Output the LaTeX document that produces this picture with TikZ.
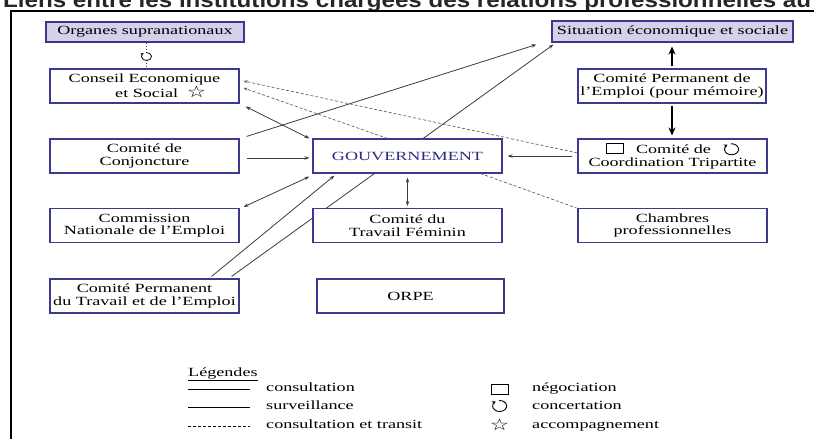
\documentclass[tikz,border=0pt]{standalone}
\usepackage{fontspec}
\setmainfont{Liberation Serif}[FakeStretch=1.45]
\newfontfamily\titlefont{Liberation Sans}[FakeStretch=1.15]
\newfontfamily\symfont{DejaVu Sans}[FakeStretch=1.35]
\usetikzlibrary{arrows.meta,backgrounds}
\definecolor{boxline}{HTML}{3A3A8C}
\definecolor{lav}{HTML}{D6D1EA}
\definecolor{navy}{HTML}{2B2B85}
\definecolor{edgec}{HTML}{3C3C3C}
\definecolor{dotblue}{HTML}{3030A0}
\newcommand{\negsym}{\tikz[baseline=0pt]\draw[line width=0.8pt] (0pt,0pt) rectangle (17pt,10pt);}
\newcommand{\concsym}{\tikz[baseline=0pt]\draw[line width=0.9pt,-{Stealth[length=3.5pt,width=4pt]}] (0pt,4.5pt) ++(95:7pt and 5.5pt) arc[start angle=95,end angle=-235,x radius=7pt,y radius=5.5pt];}
\newcommand{\accsym}{{\symfont\fontsize{16}{16}\selectfont ☆}}
\tikzset{
  box/.style={draw=boxline, line width=1.1pt, fill=white, minimum width=189pt,
    minimum height=34pt, inner sep=0pt, align=center,
    font=\fontsize{12.5}{12.5}\selectfont},
  topbox/.style={box, fill=lav, minimum height=20pt},
  arr/.style={draw=edgec, line width=0.8pt, -{Stealth[length=5pt,width=3.5pt]}},
  barr/.style={draw=edgec, line width=0.8pt, {Stealth[length=5pt,width=3.5pt]}-{Stealth[length=5pt,width=3.5pt]}},
  dline/.style={draw=gray!70!black, line width=0.65pt, dash pattern=on 3pt off 2pt},
  darr/.style={dline, -{Stealth[length=4pt,width=3pt]}},
  karr/.style={draw=black, line width=1.2pt, -{Stealth[length=8pt,width=7pt]}},
  legtext/.style={anchor=base west, inner sep=0pt, font=\fontsize{12.5}{12.5}\selectfont},
}
\begin{document}
\begin{tikzpicture}[x=1pt, y=-1pt]
\useasboundingbox (0,0) rectangle (814,439);
% title
\node[anchor=base west, inner sep=0pt, text=black!85,
  font=\titlefont\bfseries\fontsize{21}{21}\selectfont] (title) at (3,7)
  {Liens entre les institutions chargées des relations professionnelles au};
% frame
\coordinate (fbl) at (11,439);
\coordinate (ftl) at (11,11);
\coordinate (ftr) at (814,11);
\draw[line width=2.5pt] (fbl) -- (ftl) -- (ftr);
% boxes
\node[topbox, minimum width=198pt, minimum height=20pt] (org) at (145,32) {Organes supranationaux};
\node[topbox, minimum width=241pt, minimum height=21pt] (sit) at (672.5,31.5) {Situation économique et sociale};
\node[box] (ces) at (144.5,86) {Conseil Economique\\\hspace*{2.6em}et Social\hspace{0.7em}\accsym};
\node[box, minimum width=188pt] (cpe) at (672,86) {Comité Permanent de\\l'Emploi (pour mémoire)};
\node[box] (conj) at (144.5,156) {Comité de\\Conjoncture};
\node[box, text=navy] (gouv) at (407.5,156) {GOUVERNEMENT};
\node[box] (trip) at (672.5,156) {\negsym\quad Comité de\quad\concsym\\Coordination Tripartite};
\node[box] (cne) at (144.5,225.5) {Commission\\Nationale de l'Emploi};
\node[box] (ctf) at (407.5,225.5) {Comité du\\Travail Féminin};
\node[box] (cham) at (672.5,225.5) {Chambres\\professionnelles};
\node[box] (cpte) at (144.5,296) {Comité Permanent\\du Travail et de l'Emploi};
\node[box, minimum width=187pt] (orpe) at (410.5,296) {ORPE};
% concertation link Organes - Conseil
\node[minimum width=10pt, minimum height=8pt, inner sep=0pt] (conc) at (146.5,56.5) {};
\draw[line width=0.8pt,-{Stealth[length=3pt,width=3pt]}] (conc.center) ++(95:5pt and 4pt)
  arc[start angle=95,end angle=-235,x radius=5pt,y radius=4pt];
\draw[dotblue, line width=1pt, dotted] (conc.north |- org.south) -- ([shift={(0,-2)}]conc.north);
\draw[dotblue, line width=1pt, dotted] ([shift={(0,2)}]conc.south) -- (conc.south |- ces.north);
% connectors
\begin{scope}[on background layer]
\draw[arr] ([shift={(7,-2)}]conj.north east) -- ([shift={(-15,2)}]sit.south west);
\draw[arr] ([shift={(-8,-2)}]cpte.north east) -- ([shift={(2,2)}]sit.south west);
\draw[arr] ([shift={(-28,-2)}]cpte.north east) -- ([shift={(22,2)}]gouv.south west);
\draw[arr] ([shift={(7,2)}]conj.east) -- ([shift={(-3,2)}]gouv.west);
\draw[barr] ([shift={(6,3)}]ces.south east) -- ([shift={(-3,0)}]gouv.north west);
\draw[barr] ([shift={(4,-1)}]cne.north east) -- ([shift={(-3,3)}]gouv.south west);
\draw[barr, shorten <=4pt, shorten >=2pt] (gouv.south) -- (ctf.north);
\draw[arr, shorten <=5pt, shorten >=5pt] (trip.west) -- (gouv.east);
\draw[karr, shorten <=2pt, shorten >=4pt] (cpe.north) -- (cpe.north |- sit.south);
\draw[karr, shorten <=2pt, shorten >=3pt] (cpe.south) -- (cpe.south |- trip.north);
\draw[darr] ([shift={(0,-3)}]trip.west) -- ([shift={(4,-5)}]ces.east);
\draw[darr] ([shift={(-20,0)}]gouv.north) -- ([shift={(4,2)}]ces.east);
\draw[dline] ([shift={(-22,0)}]gouv.south east) -- ([shift={(-1,0)}]cham.north west);
\end{scope}
% legend
\node[legtext] (leg) at (188,376) {\underline{Légendes}};
\coordinate (l1a) at (188,389); \coordinate (l1b) at (250,389);
\coordinate (l2a) at (188,407); \coordinate (l2b) at (250,407);
\coordinate (l3a) at (188,426); \coordinate (l3b) at (250,426);
\draw[black, line width=0.8pt] (l1a) -- (l1b);
\draw[black, line width=0.8pt] (l2a) -- (l2b);
\draw[black, line width=0.6pt, dash pattern=on 3pt off 2pt] (l3a) -- (l3b);
\node[legtext] (t1) at (266,391) {consultation};
\node[legtext] (t2) at (266,409) {surveillance};
\node[legtext] (t3) at (266,428) {consultation et transit};
\node[inner sep=0pt] (s1) at (499.5,389) {\negsym};
\node[inner sep=0pt] (s2) at (499.5,406) {\concsym};
\node[inner sep=0pt] (s3) at (499.5,425) {\accsym};
\node[legtext] (u1) at (532,391) {négociation};
\node[legtext] (u2) at (532,409) {concertation};
\node[legtext] (u3) at (532,428) {accompagnement};
\end{tikzpicture}
\end{document}
